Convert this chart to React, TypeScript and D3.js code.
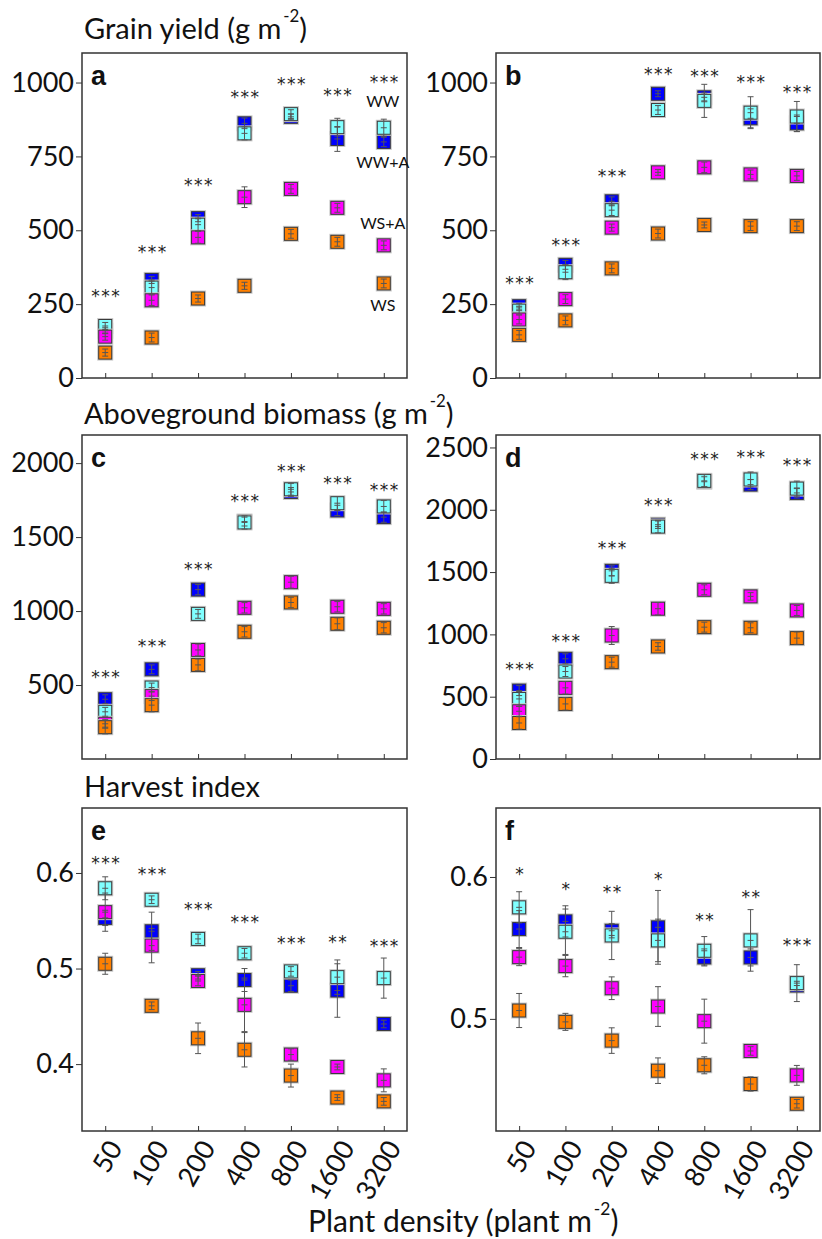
import { useEffect, useRef } from "react";
import * as d3 from "d3";

const W = 822;
const H = 1239;
const FONT = "Lato, 'Open Sans', sans-serif";

const densities = ["50", "100", "200", "400", "800", "1600", "3200"];
// drawing order: WW+A first, WS last (later ones sit on top)
const treatments = ["WW+A", "WW", "WS+A", "WS"];
const treatmentColors = ["#0000FF", "#80FFFF", "#FF00FF", "#FF8000"];

// (a) grain yield, first season
const gy1WWA = [160, 332, 541, 862, 884, 809, 799];
const gy1WW = [176, 306, 519, 828, 893, 849, 847];
const gy1WSA = [140, 263, 476, 612, 640, 576, 449];
const gy1WS = [86, 137, 269, 312, 488, 461, 320];
const gy1WWAErr = [10, 12, 12, 18, 10, 42, 16];
const gy1WWErr = [12, 22, 20, 22, 15, 30, 29];
const gy1WSAErr = [12, 18, 20, 35, 15, 15, 15];
const gy1WSErr = [12, 15, 12, 12, 15, 15, 15];
const gy1StarPos = [292, 441, 668, 963, 1010, 973, 1017];
const gy1Stars = ["***", "***", "***", "***", "***", "***", "***"];
const gy1LegendPos = [937, 729, 522, 247];
const gy1LegendText = ["WW", "WW+A", "WS+A", "WS"];

// (b) grain yield, second season
const gy2WWA = [243, 383, 598, 962, 950, 879, 862];
const gy2WW = [228, 358, 568, 907, 938, 898, 885];
const gy2WSA = [198, 267, 509, 696, 713, 689, 684];
const gy2WS = [146, 195, 371, 489, 518, 514, 514];
const gy2WWAErr = [10, 15, 15, 10, 15, 32, 28];
const gy2WWErr = [12, 25, 18, 15, 56, 54, 51];
const gy2WSAErr = [15, 15, 12, 10, 18, 15, 15];
const gy2WSErr = [15, 15, 15, 15, 10, 15, 15];
const gy2StarPos = [336, 464, 698, 1044, 1037, 1017, 983];
const gy2Stars = ["***", "***", "***", "***", "***", "***", "***"];

// (c) aboveground biomass, first season
const bm1WWA = [404, 606, 1145, 1605, 1805, 1680, 1635];
const bm1WW = [319, 483, 981, 1599, 1823, 1729, 1707];
const bm1WSA = [238, 425, 737, 1022, 1195, 1029, 1015];
const bm1WS = [215, 364, 636, 860, 1058, 914, 887];
const bm1WWAErr = [30, 30, 35, 30, 30, 35, 35];
const bm1WWErr = [30, 30, 30, 45, 40, 45, 40];
const bm1WSAErr = [30, 30, 40, 35, 40, 35, 35];
const bm1WSErr = [45, 45, 40, 35, 35, 40, 35];
const bm1StarPos = [579, 793, 1314, 1774, 1972, 1895, 1846];
const bm1Stars = ["***", "***", "***", "***", "***", "***", "***"];

// (d) aboveground biomass, second season
const bm2WWA = [549, 804, 1510, 1880, 2225, 2202, 2135];
const bm2WW = [482, 702, 1470, 1865, 2232, 2243, 2170];
const bm2WSA = [383, 571, 991, 1206, 1358, 1305, 1192];
const bm2WS = [289, 442, 777, 903, 1058, 1053, 970];
const bm2WWAErr = [40, 40, 40, 30, 40, 40, 40];
const bm2WWErr = [60, 40, 60, 50, 50, 60, 60];
const bm2WSAErr = [40, 50, 72, 50, 40, 30, 40];
const bm2WSErr = [50, 50, 40, 30, 40, 40, 50];
const bm2StarPos = [756, 978, 1723, 2071, 2438, 2457, 2390];
const bm2Stars = ["***", "***", "***", "***", "***", "***", "***"];

// (e) harvest index, first season
const hi1WWA = [0.553, 0.539, 0.493, 0.488, 0.482, 0.477, 0.442];
const hi1WW = [0.584, 0.572, 0.531, 0.516, 0.497, 0.491, 0.49];
const hi1WSA = [0.559, 0.524, 0.487, 0.462, 0.41, 0.397, 0.383];
const hi1WS = [0.505, 0.461, 0.427, 0.415, 0.388, 0.365, 0.361];
const hi1WWAErr = [0.008, 0.02, 0.004, 0.012, 0.006, 0.028, 0.004];
const hi1WWErr = [0.012, 0.004, 0.005, 0.005, 0.005, 0.018, 0.021];
const hi1WSAErr = [0.02, 0.018, 0.005, 0.028, 0.006, 0.003, 0.012];
const hi1WSErr = [0.011, 0.004, 0.016, 0.018, 0.012, 0.003, 0.004];
const hi1StarPos = [0.615, 0.603, 0.567, 0.553, 0.531, 0.532, 0.528];
const hi1Stars = ["***", "***", "***", "***", "***", "**", "***"];

// (f) harvest index, second season
const hi2WWA = [0.5633, 0.5687, 0.5621, 0.5645, 0.5433, 0.5433, 0.5235];
const hi2WW = [0.5786, 0.5614, 0.5588, 0.5553, 0.548, 0.5553, 0.5252];
const hi2WSA = [0.5435, 0.5372, 0.5216, 0.5087, 0.4984, 0.4774, 0.4602];
const hi2WS = [0.5059, 0.4979, 0.4847, 0.4635, 0.4673, 0.4541, 0.4402];
const hi2WWAErr = [0.013, 0.011, 0.005, 0.026, 0.006, 0.006, 0.003];
const hi2WWErr = [0.011, 0.016, 0.017, 0.015, 0.01, 0.0217, 0.013];
const hi2WSAErr = [0.006, 0.0075, 0.008, 0.014, 0.0155, 0.003, 0.007];
const hi2WSErr = [0.012, 0.006, 0.009, 0.009, 0.006, 0.005, 0.003];
const hi2StarPos = [0.605, 0.5946, 0.592, 0.6016, 0.5727, 0.589, 0.5546];
const hi2Stars = ["*", "*", "**", "*", "**", "**", "***"];

const yieldTicks = [0, 250, 500, 750, 1000];
const bm1Ticks = [500, 1000, 1500, 2000];
const bm2Ticks = [0, 500, 1000, 1500, 2000, 2500];
const hi1Ticks = [0.4, 0.5, 0.6];
const hi2Ticks = [0.5, 0.6];

const COLS = [[82, 407], [496, 820]];
const ROWS = [[53, 378], [435, 759], [808, 1131]];

const panels = [
  { letter: "a", col: 0, row: 0, domain: [0, 1100], ticks: yieldTicks, fmt: "d",
    means: [gy1WWA, gy1WW, gy1WSA, gy1WS], errs: [gy1WWAErr, gy1WWErr, gy1WSAErr, gy1WSErr],
    starPos: gy1StarPos, stars: gy1Stars },
  { letter: "b", col: 1, row: 0, domain: [0, 1100], ticks: yieldTicks, fmt: "d",
    means: [gy2WWA, gy2WW, gy2WSA, gy2WS], errs: [gy2WWAErr, gy2WWErr, gy2WSAErr, gy2WSErr],
    starPos: gy2StarPos, stars: gy2Stars },
  { letter: "c", col: 0, row: 1, domain: [0, 2190], ticks: bm1Ticks, fmt: "d",
    means: [bm1WWA, bm1WW, bm1WSA, bm1WS], errs: [bm1WWAErr, bm1WWErr, bm1WSAErr, bm1WSErr],
    starPos: bm1StarPos, stars: bm1Stars },
  { letter: "d", col: 1, row: 1, domain: [0, 2600], ticks: bm2Ticks, fmt: "d",
    means: [bm2WWA, bm2WW, bm2WSA, bm2WS], errs: [bm2WWAErr, bm2WWErr, bm2WSAErr, bm2WSErr],
    starPos: bm2StarPos, stars: bm2Stars },
  { letter: "e", col: 0, row: 2, domain: [0.33, 0.668], ticks: hi1Ticks, fmt: ".1f",
    means: [hi1WWA, hi1WW, hi1WSA, hi1WS], errs: [hi1WWAErr, hi1WWErr, hi1WSAErr, hi1WSErr],
    starPos: hi1StarPos, stars: hi1Stars },
  { letter: "f", col: 1, row: 2, domain: [0.421, 0.6486], ticks: hi2Ticks, fmt: ".1f",
    means: [hi2WWA, hi2WW, hi2WSA, hi2WS], errs: [hi2WWAErr, hi2WWErr, hi2WSAErr, hi2WSErr],
    starPos: hi2StarPos, stars: hi2Stars },
];

const titles = [
  { text: "Grain yield (g m", sup: "-2", tail: ")", x: 84, y: 39 },
  { text: "Aboveground biomass (g m", sup: "-2", tail: ")", x: 84, y: 424 },
  { text: "Harvest index", sup: "", tail: "", x: 84, y: 797 },
];

const BOX = 13;
const TICK_FONT = 27;

function addTitle(svg: any, t: any, size: number) {
  const txt = svg.append("text")
    .attr("x", t.x).attr("y", t.y)
    .attr("font-family", FONT).attr("font-size", size).attr("fill", "#111");
  txt.append("tspan").text(t.text);
  if (t.sup) {
    txt.append("tspan").attr("dx", 2).attr("dy", -17).attr("font-size", size * 0.58).text(t.sup);
    txt.append("tspan").attr("dy", 17).text(t.tail);
  }
}

function drawPanel(svg: any, p: any) {
  const [x0, x1] = COLS[p.col];
  const [y0, y1] = ROWS[p.row];
  const x = d3.scalePoint().domain(densities).range([x0, x1]).padding(0.5);
  const y = d3.scaleLinear().domain(p.domain).range([y1, y0]);
  const g = svg.append("g");

  // y axis (outer ticks)
  g.append("g")
    .attr("transform", `translate(${x0},0)`)
    .call(d3.axisLeft(y).tickValues(p.ticks).tickSize(6).tickPadding(2).tickFormat(d3.format(p.fmt)))
    .call((ax: any) => {
      ax.select(".domain").remove();
      ax.selectAll("line").attr("stroke", "#333");
      ax.selectAll("text")
        .attr("font-family", FONT).attr("font-size", TICK_FONT).attr("fill", "#111");
    });

  // x axis (inner ticks)
  g.append("g")
    .attr("transform", `translate(0,${y1})`)
    .call(d3.axisBottom(x).tickSize(-5).tickFormat(() => ""))
    .call((ax: any) => {
      ax.select(".domain").remove();
      ax.selectAll("line").attr("stroke", "#333");
    });

  if (p.row === 2) {
    g.append("g").selectAll("text").data(densities).join("text")
      .attr("transform", (d: string) => `translate(${(x(d) as number) + 10},${y1 + 12}) rotate(-60)`)
      .attr("text-anchor", "end").attr("dy", "0.35em")
      .attr("font-family", FONT).attr("font-size", TICK_FONT).attr("fill", "#111")
      .text((d: string) => d);
  }

  // boxes
  p.means.forEach((vals: number[], si: number) => {
    const sg = g.append("g").attr("class", `series-${treatments[si]}`);
    vals.forEach((v, i) => {
      const cx = x(densities[i]) as number;
      const cy = y(v);
      sg.append("rect")
        .attr("x", cx - BOX / 2).attr("y", cy - BOX / 2)
        .attr("width", BOX).attr("height", BOX)
        .attr("fill", "none").attr("stroke", "#c8c8c8").attr("stroke-width", 3);
      sg.append("rect")
        .attr("x", cx - BOX / 2).attr("y", cy - BOX / 2)
        .attr("width", BOX).attr("height", BOX)
        .attr("fill", treatmentColors[si]).attr("stroke", "#3a3a3a").attr("stroke-width", 1);
    });
  });

  // error bars and centre marks on top
  p.means.forEach((vals: number[], si: number) => {
    const eg = g.append("g").attr("stroke", "#555").attr("stroke-width", 1);
    vals.forEach((v, i) => {
      const cx = x(densities[i]) as number;
      const e = p.errs[si][i];
      const top = y(v + e);
      const bot = y(v - e);
      eg.append("line").attr("x1", cx).attr("x2", cx).attr("y1", top).attr("y2", bot);
      eg.append("line").attr("x1", cx - 3).attr("x2", cx + 3).attr("y1", top).attr("y2", top);
      eg.append("line").attr("x1", cx - 3).attr("x2", cx + 3).attr("y1", bot).attr("y2", bot);
      eg.append("line").attr("x1", cx - 3).attr("x2", cx + 3).attr("y1", y(v)).attr("y2", y(v));
    });
  });

  // significance stars
  g.append("g").selectAll("text").data(p.stars).join("text")
    .attr("x", (_d: string, i: number) => (x(densities[i]) as number) + 1)
    .attr("y", (_d: string, i: number) => y(p.starPos[i]) + 10)
    .attr("text-anchor", "middle")
    .attr("font-family", "'DejaVu Sans', sans-serif").attr("font-size", 17)
    .attr("letter-spacing", 1.5).attr("fill", "#222")
    .text((d: string) => d);

  // frame
  g.append("rect")
    .attr("x", x0).attr("y", y0).attr("width", x1 - x0).attr("height", y1 - y0)
    .attr("fill", "none").attr("stroke", "#333").attr("stroke-width", 1.5);

  // panel letter
  g.append("text")
    .attr("x", x0 + 9).attr("y", y0 + 32)
    .attr("font-family", "'Liberation Sans', Arial, sans-serif").attr("font-weight", "bold")
    .attr("font-size", 27).attr("fill", "#111")
    .text(p.letter);

  // treatment labels (panel a only)
  if (p.letter === "a") {
    g.append("g").selectAll("text").data(gy1LegendText).join("text")
      .attr("x", (x("3200") as number) - 1)
      .attr("y", (_d: string, i: number) => y(gy1LegendPos[i]))
      .attr("dy", "0.35em").attr("text-anchor", "middle")
      .attr("font-family", FONT).attr("font-size", 16).attr("fill", "#111")
      .text((d: string) => d);
  }
}

export default function App() {
  const svgRef = useRef<SVGSVGElement>(null);

  useEffect(() => {
    document.body.style.margin = "0";
    const svg = d3.select(svgRef.current);
    svg.selectAll("*").remove();
    svg.append("rect").attr("width", W).attr("height", H).attr("fill", "#fff");

    titles.forEach((t) => addTitle(svg, t, 29));
    panels.forEach((p) => drawPanel(svg, p));

    // shared x axis title
    addTitle(svg, { text: "Plant density (plant m", sup: "-2", tail: ")", x: 308, y: 1232 }, 30);
  }, []);

  return <svg ref={svgRef} width={W} height={H} style={{ display: "block" }} />;
}
